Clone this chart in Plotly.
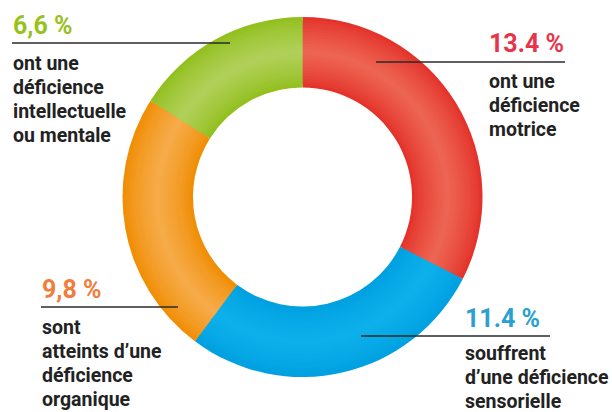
import plotly.graph_objects as go

# ---- data ----
categories = ["motrice", "sensorielle", "organique", "intellectuelle ou mentale"]
values = [13.4, 11.4, 9.8, 6.6]
pct_labels = ["13.4 %", "11.4 %", "9,8 %", "6,6 %"]
descriptions = [
    ["ont une", "déficience", "motrice"],
    ["souffrent", "d’une déficience", "sensorielle"],
    ["sont", "atteints d’une", "déficience", "organique"],
    ["ont une", "déficience", "intellectuelle", "ou mentale"],
]

# ---- style ----
W, H = 612, 412
CX, CY = 302.5, 197.0
R_OUT, R_IN = 180.0, 109.5
edge_colors = ["#e4332b", "#00a0e1", "#f08e05", "#93c01f"]
mid_colors = ["#ed6452", "#0db0ea", "#f6ab48", "#b0cf58"]
pct_colors = ["#e8344a", "#2a9fd0", "#f07d3a", "#97c21d"]
text_color = "#222222"

# label placement (pixels): text x, pct baseline, rule y, rule x0/x1, first body baseline
label_x = [488, 464, 41, 12]
pct_base = [52, 327, 298, 34]
rule_y = [62, 336, 307, 43]
rule_x = [(376, 565), (361, 550), (41, 178), (12, 230)]
body_base = [88, 360, 334, 70]
LINE_STEP = 24.0
PCT_SIZE = 25
BODY_SIZE = 19.5


def hex2rgb(h):
    h = h.lstrip("#")
    return [int(h[i:i + 2], 16) for i in (0, 2, 4)]


def mix(c1, c2, t):
    a, b = hex2rgb(c1), hex2rgb(c2)
    return "rgb(%d,%d,%d)" % tuple(round(a[i] + (b[i] - a[i]) * t) for i in range(3))


fig = go.Figure()

N = 12
half = (R_OUT - R_IN) / 2
d = half / N
for k in range(N):
    ro = R_OUT - k * d
    ri = R_IN + k * d
    t = (k / (N - 1)) ** 0.8
    cols = [mix(edge_colors[i], mid_colors[i], t) for i in range(4)]
    fig.add_trace(go.Pie(
        labels=categories,
        values=values,
        sort=False,
        direction="clockwise",
        rotation=0,
        hole=ri / ro,
        marker=dict(colors=cols, line=dict(width=0)),
        textinfo="none",
        hoverinfo="skip",
        showlegend=False,
        domain=dict(x=[(CX - ro) / W, (CX + ro) / W],
                    y=[1 - (CY + ro) / H, 1 - (CY - ro) / H]),
    ))


def py(ypix):
    return 1 - ypix / H


annotations = []
shapes = []
ASC, DESC = 0.928, 0.244
for i in range(4):
    fs = PCT_SIZE
    ymid = pct_base[i] - (ASC - DESC) / 2 * fs
    annotations.append(dict(
        text=pct_labels[i], x=label_x[i] / W, y=py(ymid), xref="paper", yref="paper",
        xanchor="left", yanchor="middle", showarrow=False, borderpad=0,
        font=dict(family="Roboto", size=fs, color=pct_colors[i], weight="bold"),
    ))
    shapes.append(dict(type="line", xref="paper", yref="paper",
                       x0=rule_x[i][0] / W, x1=rule_x[i][1] / W,
                       y0=py(rule_y[i]), y1=py(rule_y[i]),
                       line=dict(color="#2a2a2a", width=1.5)))
    for j, line in enumerate(descriptions[i]):
        fs = BODY_SIZE
        base = body_base[i] + j * LINE_STEP
        ymid = base - (ASC - DESC) / 2 * fs
        annotations.append(dict(
            text=line, x=label_x[i] / W, y=py(ymid), xref="paper", yref="paper",
            xanchor="left", yanchor="middle", showarrow=False, borderpad=0,
            font=dict(family="Roboto", size=fs, color=text_color, weight="bold"),
        ))

fig.update_layout(
    width=W, height=H,
    margin=dict(l=0, r=0, t=0, b=0),
    paper_bgcolor="white", plot_bgcolor="white",
    annotations=annotations, shapes=shapes,
    showlegend=False,
)

fig.write_html(
    "out.html",
    config={"displayModeBar": False},
    post_script="document.body.style.margin='0';document.body.style.padding='0';"
                "document.body.style.overflow='hidden';",
)
